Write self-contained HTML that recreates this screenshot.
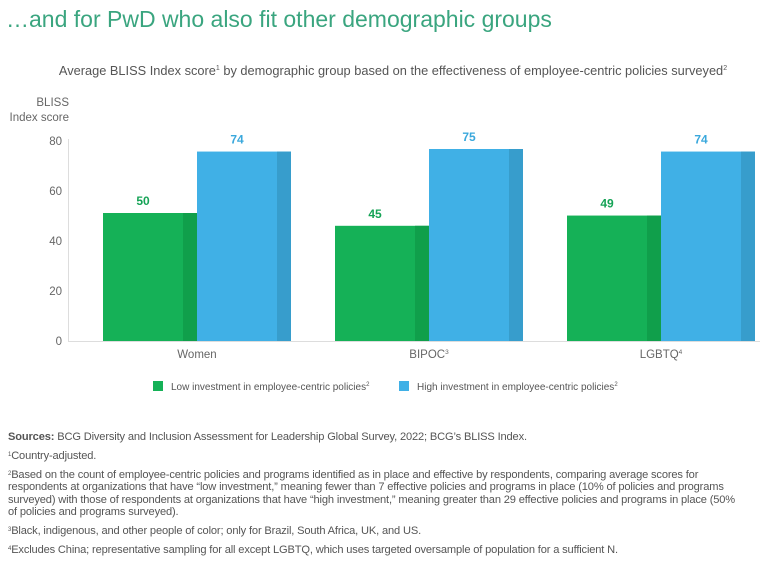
<!DOCTYPE html>
<html><head><meta charset="utf-8"><style>
body{margin:0;width:768px;height:587px;background:#fff;font-family:"Liberation Sans",sans-serif;color:#555;overflow:hidden;position:relative}
#title{position:absolute;left:6px;top:6px;font-size:23px;color:#3aa57f;white-space:nowrap}
#notes{position:absolute;left:8px;top:431px;width:732px;font-size:11.1px;line-height:12.4px;color:#555;letter-spacing:-0.15px}
#notes p{margin:0 0 6.6px 0}
sup{font-size:6px;vertical-align:top;position:relative;top:-1px}
</style></head><body>
<div id="title">…and for PwD who also fit other demographic groups</div>
<svg id="chart" width="768" height="420" style="position:absolute;left:0;top:0" font-family="Liberation Sans, sans-serif"></svg>
<div id="notes">
<p><b>Sources:</b> BCG Diversity and Inclusion Assessment for Leadership Global Survey, 2022; BCG’s BLISS Index.</p>
<p><sup>1</sup>Country-adjusted.</p>
<p><sup>2</sup>Based on the count of employee-centric policies and programs identified as in place and effective by respondents, comparing average scores for respondents at organizations that have “low investment,” meaning fewer than 7 effective policies and programs in place (10% of policies and programs surveyed) with those of respondents at organizations that have “high investment,” meaning greater than 29 effective policies and programs in place (50% of policies and programs surveyed).</p>
<p><sup>3</sup>Black, indigenous, and other people of color; only for Brazil, South Africa, UK, and US.</p>
<p><sup>4</sup>Excludes China; representative sampling for all except LGBTQ, which uses targeted oversample of population for a sufficient N.</p>
</div>
<script>
const categories = ["Women", "BIPOC", "LGBTQ"];
const catSup = ["", "3", "4"];
const lowValues = [50, 45, 49];
const highValues = [74, 75, 74];
const yTicks = [0, 20, 40, 60, 80];

const NS = "http://www.w3.org/2000/svg";
const svg = document.getElementById('chart');
const y0 = 341, pxPer = 2.56;
function yScale(v){ return y0 - v * pxPer; }
const bandStart = 81, band = 232, barW = 94;
function xBand(i){ return bandStart + i * band; }
function mk(tag, attrs, parent){ const e=document.createElementNS(NS,tag); for(const k in attrs) e.setAttribute(k,attrs[k]); (parent||svg).appendChild(e); return e; }

const sub = mk('text',{x:393,y:75,'text-anchor':'middle','font-size':12.8,fill:'#555'});


sub.innerHTML = 'Average BLISS Index score<tspan font-size="7" dy="-5">1</tspan><tspan dy="5"> by demographic group based on the effectiveness of employee-centric policies surveyed</tspan><tspan font-size="7" dy="-5">2</tspan>';

const yt = mk('text',{x:69,y:106,'text-anchor':'end','font-size':11.5,fill:'#666'});


yt.innerHTML = '<tspan x="69">BLISS</tspan><tspan x="69" dy="15">Index score</tspan>';

yTicks.forEach(t=>{
  const e = mk('text',{x:62,y:y0 - t*2.5+4,'text-anchor':'end','font-size':11.5,fill:'#666'});
  
  
  e.textContent = t;
});
const ya = mk('line',{x1:68.5,y1:y0-202,x2:68.5,y2:y0,stroke:'#ddd','stroke-width':1});



function bar(x, v, color, dark, labelColor, name){
  const g = mk('g',{});
  
  
  const yy = yScale(v);
  mk('rect',{x:x,y:yy,width:barW,height:y0-yy,fill:color},g);
  mk('rect',{x:x+barW-14,y:yy,width:14,height:y0-yy,fill:dark},g);
  const t = mk('text',{x:x+barW/2-7,y:yy-8,'text-anchor':'middle','font-size':12,'font-weight':'bold',fill:labelColor},g);
  t.textContent = v;
}
categories.forEach((c,i)=>{
  const x = xBand(i) + 22;
  bar(x, lowValues[i], '#15b157', '#109f4b', '#15a356', 'bar-low-'+c.toLowerCase());
  bar(x+barW, highValues[i], '#40b0e6', '#379dcc', '#3aa8dc', 'bar-high-'+c.toLowerCase());
  const t = mk('text',{x:x+barW,y:358,'text-anchor':'middle','font-size':11.5,fill:'#666'});
  
  
  t.innerHTML = c + (catSup[i] ? '<tspan font-size="6.5" dy="-4">'+catSup[i]+'</tspan>' : '');
});
const xa = mk('line',{x1:68,y1:y0+0.5,x2:760,y2:y0+0.5,stroke:'#ddd','stroke-width':1});



function legend(x, color, label, name){
  const g = mk('g',{});
  
  
  mk('rect',{x:x,y:381,width:10,height:10,fill:color},g);
  const t = mk('text',{x:x+18,y:390,'font-size':10,fill:'#555'},g);
  t.innerHTML = label + '<tspan font-size="6" dy="-4">2</tspan>';
}
legend(153, '#15b157', 'Low investment in employee-centric policies', 'legend-low');
legend(399, '#40b0e6', 'High investment in employee-centric policies', 'legend-high');
</script>
</body></html>
